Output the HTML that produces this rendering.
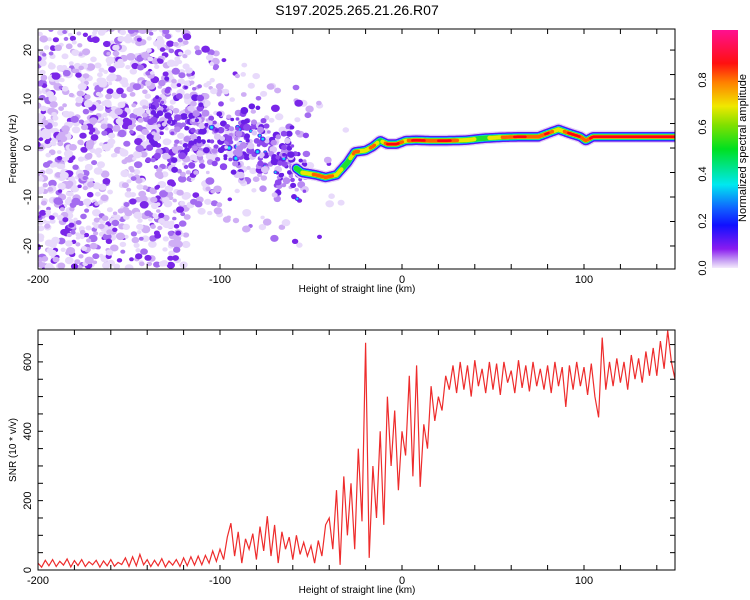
<!DOCTYPE html>
<html><head><meta charset="utf-8">
<style>
html,body{margin:0;padding:0;background:#fff;}
svg{display:block;font-family:"Liberation Sans",sans-serif;}
</style></head>
<body>
<svg id="chart" width="750" height="600" viewBox="0 0 750 600">
<defs>
<linearGradient id="cbar" x1="0" y1="1" x2="0" y2="0">
<stop offset="0" stop-color="#f4eafc"/>
<stop offset="0.03" stop-color="#c9a4f4"/>
<stop offset="0.08" stop-color="#8a1cf0"/>
<stop offset="0.18" stop-color="#1010ff"/>
<stop offset="0.25" stop-color="#1060ff"/>
<stop offset="0.35" stop-color="#00e8f0"/>
<stop offset="0.5" stop-color="#00e020"/>
<stop offset="0.6" stop-color="#80e000"/>
<stop offset="0.68" stop-color="#f0e800"/>
<stop offset="0.78" stop-color="#ff8000"/>
<stop offset="0.86" stop-color="#ff1010"/>
<stop offset="1" stop-color="#ff1090"/>
</linearGradient>
<clipPath id="clipTop"><rect x="38" y="30" width="637" height="239"/></clipPath>
<clipPath id="clipBot"><rect x="38" y="330" width="637" height="240"/></clipPath>
</defs>
<text x="357" y="15" font-size="14" text-anchor="middle">S197.2025.265.21.26.R07</text>
<g id="topMarks" clip-path="url(#clipTop)"></g>
<g id="topAxes"></g>
<g id="botMarks" clip-path="url(#clipBot)"></g>
<g id="botAxes"></g>
<g id="colorbar"></g>
</svg>
<script>
// ---- spectrogram data ----
const ridgeHeights = [-130,-120,-110,-100,-90,-80,-70,-62,-55,-47,-42,-36,-30,-26,-20,-16,-12,-8,-3,2,8,15,25,35,45,55,65,75,80,86,92,98,101,105,115,125,135,145,150];
const ridgeFreqs   = [5,4,4,2,0,1,-2,-3,-5,-5.5,-6,-5.5,-3,-0.8,-0.5,0.3,1.5,0.8,0.8,1.5,1.6,1.5,1.5,1.6,2,2.2,2.3,2.3,3,3.8,3,2.3,1.5,2.3,2.3,2.3,2.3,2.3,2.3];
const ridgeAmps    = [0.12,0.12,0.15,0.22,0.22,0.28,0.3,0.35,0.6,0.8,0.85,0.7,0.5,0.85,0.6,0.85,0.5,0.9,0.9,0.7,0.95,0.8,0.9,0.65,0.55,0.75,0.9,0.75,0.9,0.6,0.9,0.85,0.8,0.9,0.95,0.9,0.85,0.95,0.9];
const noiseBinStarts = [-200,-190,-180,-170,-160,-150,-140,-130,-120,-110,-100,-90,-80,-70,-60,-50,-40,-30,-20,-10,0];
const noiseDensity   = [0.9,0.85,0.8,0.8,0.8,0.75,0.75,0.7,0.55,0.3,0.18,0.14,0.12,0.1,0.08,0.04,0.02,0.01,0,0,0];
const freqTicks = [-20,-10,0,10,20];
const heightTicks = [-200,-100,0,100];
const cbarTicks = [0.0,0.2,0.4,0.6,0.8];
// ---- SNR data (every 2 km from -200) ----
const snrValues = [20,8,28,12,30,10,25,14,32,9,27,13,30,10,24,15,28,8,26,12,30,11,22,16,35,10,38,12,45,15,30,10,28,12,33,9,26,14,30,10,35,12,38,14,40,
15,42,20,55,25,
60,30,95,135,40,110,20,90,60,105,30,125,55,155,40,130,20,110,60,95,30,100,45,80,40,
70,20,85,40,130,
150,60,230,15,270,
100,250,60,350,140,
655,35,300,150,400,
130,500,300,460,230,
400,330,560,270,590,
240,420,350,530,430,
500,460,560,520,590,
510,600,520,590,500,605,530,580,510,600,520,595,505,600,540,575,510,605,525,590,515,600,530,580,520,590,510,600,530,585,
470,590,520,600,530,585,505,595,500,440,670,520,600,530,610,540,600,520,620,550,610,540,630,560,640,560,660,580,690,600,550];
const snrTicks = [0,200,400,600];

const NS="http://www.w3.org/2000/svg";
function mk(tag,attrs,parent){const e=document.createElementNS(NS,tag);for(const k in attrs)e.setAttribute(k,attrs[k]);parent.appendChild(e);return e;}
const X0=38,X1=675,HMIN=-200,HMAX=150;
const xs=h=>X0+(h-HMIN)/(HMAX-HMIN)*(X1-X0);
const TY0=29,TY1=269,FMIN=-24.7,FMAX=24.3;
const yf=f=>TY1-(f-FMIN)/(FMAX-FMIN)*(TY1-TY0);
const BY0=330,BY1=570,SMAX=692;
const ys=v=>BY1-v/SMAX*(BY1-BY0);

const topG=document.getElementById('topMarks');
const hsh=(i,k)=>{const s=Math.sin(i*12.9898+k*78.233)*43758.5453;return s-Math.floor(s);};
function interp(arr,h){
  if(h<=ridgeHeights[0])return arr[0];
  for(let i=1;i<ridgeHeights.length;i++){if(h<=ridgeHeights[i]){const t=(h-ridgeHeights[i-1])/(ridgeHeights[i]-ridgeHeights[i-1]);return arr[i-1]+t*(arr[i]-arr[i-1]);}}
  return arr[arr.length-1];
}
const ridgeAt=h=>interp(ridgeFreqs,h);
const ampAt=h=>interp(ridgeAmps,h);
// ---- background noise blobs ----
const noiseG=mk('g',{},topG);


for(let i=0;i<3400;i++){
  const u=hsh(i,1),v=hsh(i,2),w=hsh(i,3);
  const h=-201+211*u;
  let b=Math.floor((h+200)/10);b=Math.max(0,Math.min(noiseBinStarts.length-1,b));
  const d=noiseDensity[b];
  if(w>d)continue;
  let f;
  if(h<-118) f=FMIN+(FMAX-FMIN)*v;
  else f=ridgeAt(h)+(v-0.5)*34;
  const c=hsh(i,4);
  const col=c<0.16?'#7a26e8':(c<0.3?'#a46cf0':(c<0.6?'#cfaef5':'#e8dafb'));
  const r=1.8+2*hsh(i,5);
  mk('ellipse',{cx:xs(h).toFixed(1),cy:yf(f).toFixed(1),rx:(r*1.2).toFixed(1),ry:r.toFixed(1),fill:col},noiseG);
}
// ---- scattered ridge blobs (weak section) ----
const clusterG=mk('g',{},topG);


for(let i=0;i<380;i++){
  const h=-140+88*hsh(i,6);
  const sp=h<-100?11:9;
  const f=ridgeAt(h)+(hsh(i,7)-0.5)*2*sp*(0.2+0.8*hsh(i,8));
  const a=ampAt(h);
  const c=hsh(i,9);
  const r=1.6+2*hsh(i,10);
  const x=xs(h),y=yf(f);
  const col=c<0.45?'#6a1ee6':(c<0.7?'#8e48ee':(c<0.85?'#b88af2':'#dcc6f8'));
  mk('ellipse',{cx:x.toFixed(1),cy:y.toFixed(1),rx:(r*1.1).toFixed(1),ry:r.toFixed(1),fill:col},clusterG);
  if(c<0.08 && a>0.18){
    mk('circle',{cx:x.toFixed(1),cy:y.toFixed(1),r:r*0.7,fill:'#2070ff'},clusterG);
    mk('circle',{cx:x.toFixed(1),cy:y.toFixed(1),r:r*0.45,fill:'#20e0f0'},clusterG);
  }
}
// ---- coherent ridge ----
const ridgeG=mk('g',{},topG);


const layers=[[0,6,'#e2cff9'],[0.05,4.8,'#7418ee'],[0.18,4,'#1a30ff'],[0.3,3.3,'#10e0f0'],[0.45,2.7,'#20e030'],[0.6,2.1,'#e8e800'],[0.75,1.7,'#ff6000'],[0.85,1.3,'#ff0010']];
for(const [thr,r,col] of layers){
  for(let px=xs(-58);px<=X1+2;px+=1){
    const h=HMIN+(px-X0)/(X1-X0)*(HMAX-HMIN);
    const a=ampAt(h);
    if(a<thr)continue;
    mk('circle',{cx:px.toFixed(1),cy:yf(ridgeAt(h)).toFixed(1),r:r,fill:col},ridgeG);
  }
}
// ---- axes helper ----
function axes(g,y0,y1,yMinor,yMap,yLabels,yTitle,yTitleName){
  const G=document.getElementById(g);
  const fr=mk('rect',{x:X0,y:y0,width:X1-X0,height:y1-y0,fill:'none',stroke:'#000','stroke-width':1},G);
  
  
  for(let h=-200;h<=150;h+=20){
    const x=xs(h);
    mk('line',{x1:x,y1:y1,x2:x,y2:y1-5,stroke:'#000'},G);
    mk('line',{x1:x,y1:y0,x2:x,y2:y0+5,stroke:'#000'},G);
  }
  for(const h of heightTicks){
    const t=mk('text',{x:xs(h),y:y1+14,'font-size':11,'text-anchor':'middle'},G);
    t.textContent=h;
    
    
  }
  const xt=mk('text',{x:357,y:y1+23,'font-size':10,'text-anchor':'middle'},G);
  xt.textContent='Height of straight line (km)';
  
  
  for(const v of yMinor){
    const y=yMap(v);
    mk('line',{x1:X0,y1:y,x2:X0+5,y2:y,stroke:'#000'},G);
    mk('line',{x1:X1,y1:y,x2:X1-5,y2:y,stroke:'#000'},G);
  }
  for(const v of yLabels){
    const y=yMap(v);
    const t=mk('text',{x:0,y:0,'font-size':11,'text-anchor':'middle',transform:`translate(31,${y}) rotate(-90)`},G);
    t.textContent=v;
    
    
  }
  const yt=mk('text',{x:0,y:0,'font-size':10,'text-anchor':'middle',transform:`translate(16,${(y0+y1)/2}) rotate(-90)`},G);
  yt.textContent=yTitle;
  
  
}
const fMinor=[];for(let f=-20;f<=20;f+=5)fMinor.push(f);
axes('topAxes',TY0,TY1,fMinor,yf,freqTicks,'Frequency (Hz)','y-axis-title-frequency');
const sMinor=[];for(let s=0;s<=650;s+=50)sMinor.push(s);
axes('botAxes',BY0,BY1,sMinor,ys,snrTicks,'SNR (10 * v/v)','y-axis-title-snr');
// ---- SNR line ----
const botG=document.getElementById('botMarks');
let d='';
snrValues.forEach((v,i)=>{const h=-200+2*i;d+=(i?'L':'M')+xs(h).toFixed(1)+','+ys(v).toFixed(1);});
const ln=mk('path',{d:d,fill:'none',stroke:'#ee2c2c','stroke-width':1.2},botG);


// ---- colorbar ----
const cb=document.getElementById('colorbar');
const CB0=30,CB1=268;
const cbr=mk('rect',{x:712,y:CB0,width:26,height:CB1-CB0,fill:'url(#cbar)'},cb);


for(const v of cbarTicks){
  const t=mk('text',{x:0,y:0,'font-size':11,'text-anchor':'middle',transform:`translate(706,${(CB1-v*(CB1-33)).toFixed(1)}) rotate(-90)`},cb);
  t.textContent=v.toFixed(1);
  
  
}
const ct=mk('text',{x:0,y:0,'font-size':11,'text-anchor':'middle',transform:'translate(746,148) rotate(-90)'},cb);
ct.textContent='Normalized spectral amplitude';


</script>
</body></html>
